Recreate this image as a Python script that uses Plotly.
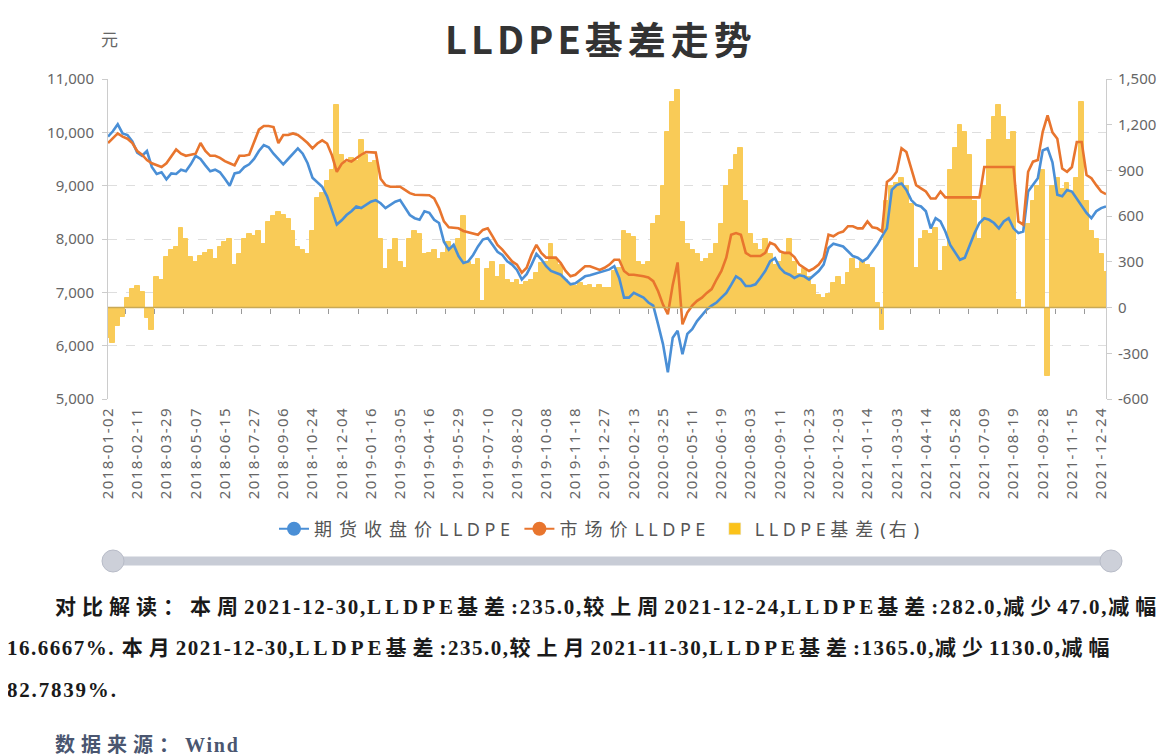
import pandas as pd
import plotly.graph_objects as go

# ---------------- data ----------------
tick_labels = [
    "2018-01-02", "2018-02-11", "2018-03-29", "2018-05-07", "2018-06-15", "2018-07-27",
    "2018-09-06", "2018-10-24", "2018-12-04", "2019-01-16", "2019-03-05", "2019-04-16",
    "2019-05-29", "2019-07-10", "2019-08-20", "2019-10-08", "2019-11-18", "2019-12-27",
    "2020-02-13", "2020-03-25", "2020-05-11", "2020-06-19", "2020-08-03", "2020-09-11",
    "2020-10-23", "2020-12-03", "2021-01-14", "2021-03-03", "2021-04-14", "2021-05-28",
    "2021-07-09", "2021-08-19", "2021-09-28", "2021-11-15", "2021-12-24",
]
last_date = "2021-12-30"

futures = [
    9920, 10020, 10150, 9980, 9950, 9830, 9620, 9560, 9650, 9350,
    9220, 9250, 9120, 9230, 9220, 9300, 9270, 9400, 9560, 9500,
    9380, 9270, 9300, 9250, 9130, 9000, 9230, 9250, 9350, 9400,
    9500, 9650, 9760, 9720, 9600, 9500, 9400, 9500, 9600, 9700,
    9600, 9420, 9150, 9070, 8980, 8800, 8520, 8270, 8350, 8450,
    8520, 8610, 8580, 8640, 8700, 8730, 8670, 8580, 8640, 8700,
    8730, 8580, 8450, 8390, 8360, 8520, 8490, 8360, 8300, 7950,
    7800, 7890, 7680, 7550, 7580, 7700, 7860, 7990, 8020, 7890,
    7760, 7700, 7580, 7520, 7420, 7240, 7340, 7520, 7720, 7620,
    7490, 7400, 7370, 7330, 7240, 7150, 7170, 7240, 7300, 7320,
    7350, 7370, 7400, 7430, 7490, 7270, 6900, 6900, 6990, 6950,
    6900, 6810, 6750, 6400, 6030, 5500, 6150, 6280, 5840, 6220,
    6310, 6460, 6560, 6680, 6750, 6810, 6900, 6990, 7140, 7300,
    7240, 7120, 7120, 7150, 7270, 7400, 7580, 7640, 7460, 7370,
    7330, 7270, 7320, 7300, 7240, 7320, 7400, 7520, 7830, 7910,
    7890, 7860, 7770, 7680, 7650, 7580, 7640, 7770, 7890, 8050,
    8200, 8920, 9010, 9040, 8920, 8730, 8640, 8610, 8520, 8200,
    8390, 8330, 8140, 7890, 7740, 7610, 7650, 7890, 8110, 8300,
    8390, 8360, 8300, 8200, 8330, 8390, 8200, 8110, 8140, 8890,
    9010, 9140, 9660, 9700, 9440, 8830, 8800, 8920, 8890, 8760,
    8610, 8490, 8390, 8520, 8580, 8610,
]

spot = [
    9800, 9900, 9980, 9920, 9880, 9800, 9650, 9580, 9480, 9420,
    9380, 9350, 9420, 9560, 9680, 9600, 9560, 9580, 9600, 9800,
    9650, 9560, 9560, 9520, 9460, 9420, 9380, 9560, 9560, 9580,
    9800, 10050, 10120, 10120, 10100, 9800, 9950, 9950, 9980, 9950,
    9880, 9800, 9700, 9790, 9850, 9790, 9570, 9260, 9410, 9480,
    9450, 9520, 9580, 9630, 9630, 9620, 9130, 9010, 8980, 8980,
    8980, 8920, 8860, 8830, 8830, 8830, 8820, 8760, 8580, 8330,
    8220, 8210, 8200, 8150, 8130, 8110, 8080, 8170, 8200, 8050,
    7890, 7800, 7680, 7580, 7520, 7370, 7460, 7710, 7890, 7740,
    7650, 7650, 7650, 7550, 7400, 7300, 7330, 7410, 7490, 7490,
    7460, 7420, 7460, 7520, 7610, 7610, 7400, 7330, 7330, 7320,
    7300, 7280, 7210, 7020, 6770, 6590, 7140, 7560, 6400, 6620,
    6750, 6840, 6900, 6990, 7060, 7240, 7400, 7650, 8080, 8110,
    8080, 7740, 7680, 7680, 7680, 7740, 7930, 7890, 7770, 7740,
    7740, 7660, 7520, 7460, 7400, 7450, 7520, 7650, 8080, 8050,
    8110, 8140, 8240, 8240, 8200, 8200, 8330, 8220, 8200, 8140,
    9070, 9140, 9260, 9700, 9630, 9320, 9010, 8950, 8890, 8760,
    8760, 8890, 8780, 8780, 8780, 8780, 8780, 8780, 8780, 8780,
    9350, 9350, 9350, 9350, 9350, 9350, 9350, 8330, 8270, 9260,
    9450, 9480, 10010, 10320, 10000, 9880, 9320, 9260, 9350, 9820,
    9820, 9200, 9140, 9010, 8890, 8840,
]

basis = [
    -200, -230, -120, -60, 60, 120, 140, 100, -70, -150,
    200, 180, 330, 380, 400, 520, 450, 330, 300, 340,
    360, 380, 320, 400, 430, 450, 280, 350, 450, 480,
    470, 500, 420, 560, 600, 630, 610, 580, 500, 400,
    380, 350, 500, 720, 750, 830, 900, 1330, 1000, 950,
    980, 960, 1100, 1000, 950, 960, 450, 250, 380, 450,
    300, 260, 450, 500, 480, 350, 360, 380, 320, 360,
    430, 400, 450, 600, 300, 280, 320, 40, 250, 300,
    200, 280, 180, 160, 180, 150, 170, 180, 230, 290,
    300, 420, 320, 280, 180, 150, 140, 160, 140, 150,
    130, 150, 130, 130, 240, 260, 500, 480, 460, 300,
    280, 300, 550, 600, 800, 1150, 1350, 1430, 560, 420,
    380, 350, 300, 320, 350, 420, 550, 800, 900, 1000,
    1050, 700, 480, 420, 380, 450, 350, 280, 300, 350,
    450, 300, 220, 250, 200, 150, 80, 60, 90, 160,
    200, 150, 230, 320, 250, 300, 280, 260, 30, -150,
    700, 800, 820, 850, 800, 680, 260, 450, 500, 480,
    520, 240, 400, 900, 1050, 1200, 1150, 1000, 700, 450,
    800, 1100, 1250, 1330, 1250, 1100, 1150, 50, 0, 550,
    700, 800, 900, -450, 800, 850, 780, 820, 760, 850,
    1350, 700, 500, 450, 350, 235,
]

left_ticks = [5000, 6000, 7000, 8000, 9000, 10000, 11000]
right_ticks = [-600, -300, 0, 300, 600, 900, 1200, 1500]

series_names = ["期货收盘价LLDPE", "市场价LLDPE", "LLDPE基差(右)"]
title_text = "LLDPE基差走势"
unit_text = "元"
note_lines = [
    "对比解读：本周2021-12-30,LLDPE基差:235.0,较上周2021-12-24,LLDPE基差:282.0,减少47.0,减幅",
    "16.6667%. 本月2021-12-30,LLDPE基差:235.0,较上月2021-11-30,LLDPE基差:1365.0,减少1130.0,减幅",
    "82.7839%.",
]
source_text = "数据来源：Wind"

# ---------------- categories ----------------
dates = []
for a, b in zip(tick_labels[:-1], tick_labels[1:]):
    rng = pd.date_range(a, b, periods=7)
    dates += [d.strftime("%Y-%m-%d") for d in rng[:-1]]
dates += [tick_labels[-1], last_date]

# ---------------- styling ----------------
W, H = 1176, 754
L, R, T, B = 100, 1098, 71, 391
BLUE = "#4a8fd6"
ORANGE = "#e8752e"
BAR = "#f9cb57"
FONT = "Noto Sans, Noto Sans CJK SC, sans-serif"
SERIF = "Liberation Serif, Noto Sans CJK SC, serif"


def px_x(px):
    return (px - L) / (R - L)


def px_y(py):
    return (B - py) / (B - T)


def spaced(text, cjk, upper, other):
    runs = []
    for ch in text:
        if ord(ch) > 0x2E80:
            cls = "c"
        elif "A" <= ch <= "Z":
            cls = "u"
        else:
            cls = "o"
        if runs and runs[-1][0] == cls:
            runs[-1][1] += ch
        else:
            runs.append([cls, ch])
    sp = {"c": cjk, "u": upper, "o": other}
    return "".join("<span style='letter-spacing:%spx'>%s</span>" % (sp[c], t) for c, t in runs)


fig = go.Figure()

# bars (primary y, right side)
fig.add_trace(go.Bar(
    x=dates, y=basis, xaxis="x", yaxis="y",
    marker=dict(color=BAR, line=dict(width=1.0, color=BAR)),
    name=series_names[2], showlegend=False,
))
# lines (secondary y, left side)
fig.add_trace(go.Scatter(
    x=dates, y=futures, xaxis="x", yaxis="y2", mode="lines",
    line=dict(color=BLUE, width=2.6), name=series_names[0], showlegend=False,
))
fig.add_trace(go.Scatter(
    x=dates, y=spot, xaxis="x", yaxis="y2", mode="lines",
    line=dict(color=ORANGE, width=2.6), name=series_names[1], showlegend=False,
))

# legend entries
legend_names = [spaced(s, 7, 4.5, 3) for s in series_names]
fig.add_trace(go.Scatter(
    x=[None], y=[None], xaxis="x2", yaxis="y", mode="lines+markers",
    line=dict(color=BLUE, width=2), marker=dict(color=BLUE, size=14),
    name=legend_names[0],
))
fig.add_trace(go.Scatter(
    x=[None], y=[None], xaxis="x2", yaxis="y", mode="lines+markers",
    line=dict(color=ORANGE, width=2), marker=dict(color=ORANGE, size=14),
    name=legend_names[1],
))
fig.add_trace(go.Bar(
    x=[None], y=[None], xaxis="x2", yaxis="y",
    marker=dict(color="#fbc21a"), name=legend_names[2],
))

n = len(dates)
minor_ticks = [3.6 + 5.97 * k for k in range(34)]

fig.update_layout(
    width=W, height=H, autosize=False,
    margin=dict(l=L, r=W - R, t=T, b=H - B, pad=0),
    paper_bgcolor="white", plot_bgcolor="white",
    bargap=0, barmode="overlay",
    font=dict(family=FONT, color="#666666", size=15),
    xaxis=dict(
        type="category", range=[0, n - 1],
        tickmode="array", tickvals=tick_labels,
        ticktext=["<span style='letter-spacing:1.4px'>%s</span>" % t for t in tick_labels],
        tickangle=-90, ticks="", showline=False, showgrid=False, zeroline=False,
        tickfont=dict(size=15, color="#666666"), ticklabelstandoff=4,
    ),
    xaxis2=dict(
        type="linear", overlaying="x", anchor="free", position=(0 + 600) / 2100,
        range=[0, n - 1], tickmode="array", tickvals=minor_ticks,
        showticklabels=False, ticks="outside", ticklen=5, tickcolor="#999999",
        showline=False, showgrid=False, zeroline=False,
    ),
    yaxis=dict(
        side="right", range=[-600, 1500], tickmode="array", tickvals=right_ticks,
        ticktext=[f"{v:,}" for v in right_ticks],
        showgrid=False, zeroline=False, showline=True, linecolor="#cccccc",
        ticks="outside", ticklen=5, tickcolor="#cccccc", ticklabelstandoff=3,
        tickfont=dict(size=15, color="#666666"),
    ),
    yaxis2=dict(
        side="left", overlaying="y", range=[5000, 11000], tickmode="array",
        tickvals=left_ticks, tickformat=",",
        showgrid=True, gridcolor="#dedede", griddash="dash", gridwidth=1,
        zeroline=False, showline=True, linecolor="#cccccc",
        ticks="outside", ticklen=5, tickcolor="#cccccc", ticklabelstandoff=5,
        tickfont=dict(size=15, color="#666666"),
    ),
    legend=dict(
        orientation="h", x=px_x(593), xanchor="center", y=px_y(521), yanchor="middle",
        font=dict(size=18, color="#555555", family=FONT),
        bgcolor="rgba(0,0,0,0)", traceorder="normal",
    ),
)

shapes = [
    # axis line at zero of the basis axis
    dict(type="line", xref="paper", yref="y", x0=0, x1=1, y0=0, y1=0,
         line=dict(color="#c9a955", width=1.5), layer="above"),
    # data zoom slider
    dict(type="line", xref="paper", yref="paper", x0=px_x(105), x1=px_x(1103),
         y0=px_y(553), y1=px_y(553), line=dict(color="#c8ccd6", width=9)),
]
for cx in (105, 1103):
    shapes.append(dict(type="circle", xref="paper", yref="paper",
                       x0=px_x(cx - 11), x1=px_x(cx + 11),
                       y0=px_y(553 + 11), y1=px_y(553 - 11),
                       fillcolor="#cdd0d9", line=dict(color="#b8bcc8", width=1)))
fig.update_layout(shapes=shapes)

note_font = dict(size=21, color="#1a1a1a", family=SERIF)
ann = [
    dict(text="<b>%s</b>" % spaced(title_text, 5, 4, 4), x=px_x(593), y=px_y(30),
         xref="paper", yref="paper", xanchor="center", yanchor="middle", showarrow=False,
         font=dict(size=38, color="#333333", family="Noto Sans CJK SC, Noto Sans")),
    dict(text=unit_text, x=px_x(101), y=px_y(31), xref="paper", yref="paper",
         xanchor="center", yanchor="middle", showarrow=False,
         font=dict(size=17, color="#666666", family=FONT)),
    dict(text="<b>%s</b>" % spaced(note_lines[0], 6, 4, 1.8),
         x=px_x(45), y=px_y(599), xref="paper", yref="paper",
         xanchor="left", yanchor="middle", showarrow=False, font=note_font),
    dict(text="<b>%s</b>" % spaced(note_lines[1], 6, 4, 1.5),
         x=px_x(-3), y=px_y(640), xref="paper", yref="paper",
         xanchor="left", yanchor="middle", showarrow=False, font=note_font),
    dict(text="<b>%s</b>" % spaced(note_lines[2], 6, 4, 1.8),
         x=px_x(-3), y=px_y(682), xref="paper", yref="paper",
         xanchor="left", yanchor="middle", showarrow=False, font=note_font),
    dict(text="<b>%s</b>" % spaced(source_text, 6, 1.8, 1.8),
         x=px_x(45), y=px_y(737), xref="paper", yref="paper",
         xanchor="left", yanchor="middle", showarrow=False,
         font=dict(size=20, color="#4a5670", family=SERIF)),
]
fig.update_layout(annotations=ann)

fig.write_html("out.html")
